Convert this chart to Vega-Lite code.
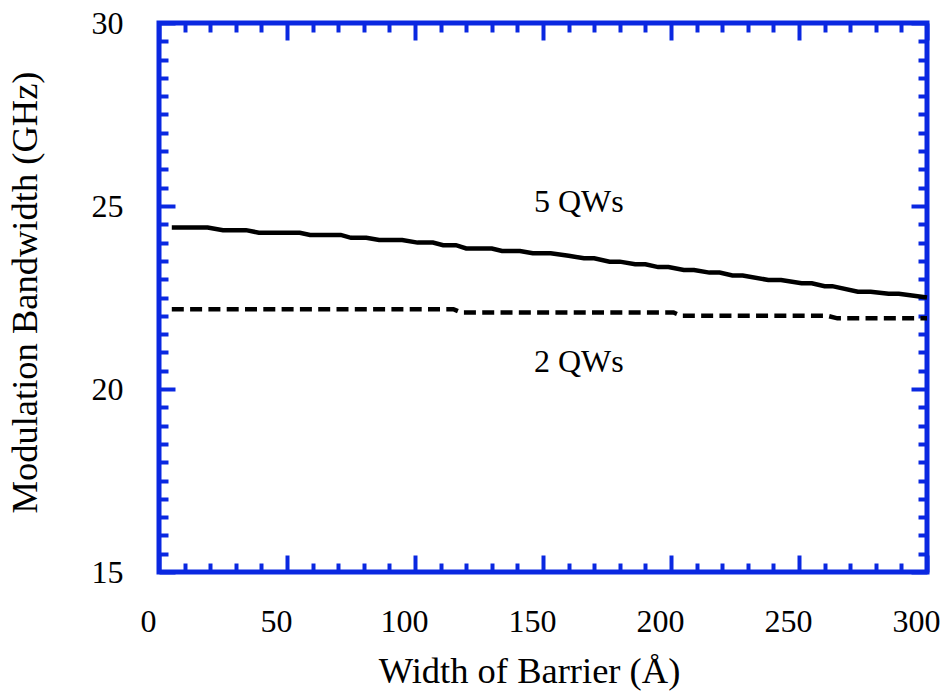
{
  "$schema": "https://vega.github.io/schema/vega-lite/v6.json",
  "width": 768,
  "height": 549,
  "autosize": {"type": "none"},
  "padding": {"left": 159, "top": 23, "right": 16, "bottom": 120},
  "background": "white",
  "datasets": {
    "bandwidth": [
      {"series": "5 QWs", "barrier": 5, "bw": 24.41},
      {"series": "5 QWs", "barrier": 19, "bw": 24.41},
      {"series": "5 QWs", "barrier": 25, "bw": 24.34},
      {"series": "5 QWs", "barrier": 34, "bw": 24.34},
      {"series": "5 QWs", "barrier": 39, "bw": 24.27},
      {"series": "5 QWs", "barrier": 55, "bw": 24.27},
      {"series": "5 QWs", "barrier": 59, "bw": 24.21},
      {"series": "5 QWs", "barrier": 71, "bw": 24.21},
      {"series": "5 QWs", "barrier": 75, "bw": 24.13},
      {"series": "5 QWs", "barrier": 81, "bw": 24.13},
      {"series": "5 QWs", "barrier": 86, "bw": 24.07},
      {"series": "5 QWs", "barrier": 95, "bw": 24.07},
      {"series": "5 QWs", "barrier": 101, "bw": 24.0},
      {"series": "5 QWs", "barrier": 107, "bw": 24.0},
      {"series": "5 QWs", "barrier": 111, "bw": 23.93},
      {"series": "5 QWs", "barrier": 116, "bw": 23.93},
      {"series": "5 QWs", "barrier": 120, "bw": 23.84},
      {"series": "5 QWs", "barrier": 130, "bw": 23.84},
      {"series": "5 QWs", "barrier": 134, "bw": 23.77},
      {"series": "5 QWs", "barrier": 141, "bw": 23.77},
      {"series": "5 QWs", "barrier": 146, "bw": 23.71},
      {"series": "5 QWs", "barrier": 153, "bw": 23.71},
      {"series": "5 QWs", "barrier": 160, "bw": 23.64},
      {"series": "5 QWs", "barrier": 166, "bw": 23.57},
      {"series": "5 QWs", "barrier": 170, "bw": 23.57},
      {"series": "5 QWs", "barrier": 176, "bw": 23.48},
      {"series": "5 QWs", "barrier": 180, "bw": 23.48},
      {"series": "5 QWs", "barrier": 186, "bw": 23.41},
      {"series": "5 QWs", "barrier": 190, "bw": 23.41},
      {"series": "5 QWs", "barrier": 195, "bw": 23.33},
      {"series": "5 QWs", "barrier": 199, "bw": 23.33},
      {"series": "5 QWs", "barrier": 205, "bw": 23.25},
      {"series": "5 QWs", "barrier": 209, "bw": 23.25},
      {"series": "5 QWs", "barrier": 215, "bw": 23.18},
      {"series": "5 QWs", "barrier": 219, "bw": 23.18},
      {"series": "5 QWs", "barrier": 224, "bw": 23.1},
      {"series": "5 QWs", "barrier": 228, "bw": 23.1},
      {"series": "5 QWs", "barrier": 238, "bw": 22.98},
      {"series": "5 QWs", "barrier": 243, "bw": 22.98},
      {"series": "5 QWs", "barrier": 251, "bw": 22.89},
      {"series": "5 QWs", "barrier": 255, "bw": 22.89},
      {"series": "5 QWs", "barrier": 260, "bw": 22.81},
      {"series": "5 QWs", "barrier": 263, "bw": 22.81},
      {"series": "5 QWs", "barrier": 273, "bw": 22.66},
      {"series": "5 QWs", "barrier": 278, "bw": 22.66},
      {"series": "5 QWs", "barrier": 285, "bw": 22.6},
      {"series": "5 QWs", "barrier": 289, "bw": 22.6},
      {"series": "5 QWs", "barrier": 300, "bw": 22.5},
      {"series": "2 QWs", "barrier": 5, "bw": 22.18},
      {"series": "2 QWs", "barrier": 115, "bw": 22.18},
      {"series": "2 QWs", "barrier": 118, "bw": 22.09},
      {"series": "2 QWs", "barrier": 201, "bw": 22.09},
      {"series": "2 QWs", "barrier": 204, "bw": 22.0},
      {"series": "2 QWs", "barrier": 261, "bw": 22.0},
      {"series": "2 QWs", "barrier": 265, "bw": 21.93},
      {"series": "2 QWs", "barrier": 300, "bw": 21.93}
    ],
    "labels": [
      {"text": "5 QWs", "barrier": 164, "bw": 24.84},
      {"text": "2 QWs", "barrier": 164, "bw": 20.46}
    ]
  },
  "layer": [
    {
      "data": {"name": "bandwidth"},
      "transform": [{"filter": "datum.series === '5 QWs'"}],
      "mark": {"type": "line", "color": "black", "strokeWidth": 4.5, "strokeCap": "butt"},
      "encoding": {
        "x": {
          "field": "barrier", "type": "quantitative",
          "scale": {"domain": [0, 300], "nice": false, "zero": false},
          "axis": {
            "orient": "bottom", "values": [0, 50, 100, 150, 200, 250, 300],
            "tickSize": -17, "labelPadding": 51, "labelOffset": -11, "labelFlush": false,
            "title": "Width of Barrier (Å)",
            "titleX": 370, "titleY": 110, "titleBaseline": "alphabetic", "titleAlign": "center"
          }
        },
        "y": {
          "field": "bw", "type": "quantitative",
          "scale": {"domain": [15, 30], "nice": false, "zero": false},
          "axis": {
            "orient": "left", "values": [15, 20, 25, 30],
            "tickSize": -16, "labelPadding": 52, "labelFlush": false,
            "title": "Modulation Bandwidth (GHz)",
            "titleX": -134, "titleY": 269, "titleAngle": -90, "titleBaseline": "middle", "titleAlign": "center"
          }
        }
      }
    },
    {
      "data": {"name": "bandwidth"},
      "transform": [{"filter": "datum.series === '2 QWs'"}],
      "mark": {"type": "line", "color": "black", "strokeWidth": 4.5, "strokeDash": [12, 6.3], "strokeCap": "butt"},
      "encoding": {
        "x": {
          "field": "barrier", "type": "quantitative",
          "scale": {"domain": [0, 300], "nice": false, "zero": false},
          "axis": {
            "orient": "bottom",
            "values": [10, 20, 30, 40, 60, 70, 80, 90, 110, 120, 130, 140, 160, 170, 180, 190, 210, 220, 230, 240, 260, 270, 280, 290],
            "tickSize": -9, "labels": false, "title": null
          }
        },
        "y": {
          "field": "bw", "type": "quantitative",
          "scale": {"domain": [15, 30], "nice": false, "zero": false},
          "axis": {
            "orient": "left",
            "values": [15.5, 16, 16.5, 17, 17.5, 18, 18.5, 19, 19.5, 20.5, 21, 21.5, 22, 22.5, 23, 23.5, 24, 24.5, 25.5, 26, 26.5, 27, 27.5, 28, 28.5, 29, 29.5],
            "tickSize": -9, "labels": false, "title": null
          }
        }
      }
    },
    {
      "data": {"name": "labels"},
      "transform": [{"filter": "datum.text === '5 QWs'"}],
      "mark": {"type": "text", "font": "Liberation Serif", "fontSize": 32, "align": "center", "baseline": "alphabetic", "color": "black"},
      "encoding": {
        "text": {"field": "text"},
        "x": {
          "field": "barrier", "type": "quantitative",
          "scale": {"domain": [0, 300], "nice": false, "zero": false},
          "axis": {"orient": "top", "values": [0, 50, 100, 150, 200, 250, 300], "tickSize": -17, "labels": false, "title": null}
        },
        "y": {
          "field": "bw", "type": "quantitative",
          "scale": {"domain": [15, 30], "nice": false, "zero": false},
          "axis": {"orient": "right", "values": [15, 20, 25, 30], "tickSize": -16, "labels": false, "title": null}
        }
      }
    },
    {
      "data": {"name": "labels"},
      "transform": [{"filter": "datum.text === '2 QWs'"}],
      "mark": {"type": "text", "font": "Liberation Serif", "fontSize": 32, "align": "center", "baseline": "alphabetic", "color": "black"},
      "encoding": {
        "text": {"field": "text"},
        "x": {
          "field": "barrier", "type": "quantitative",
          "scale": {"domain": [0, 300], "nice": false, "zero": false},
          "axis": {
            "orient": "top",
            "values": [10, 20, 30, 40, 60, 70, 80, 90, 110, 120, 130, 140, 160, 170, 180, 190, 210, 220, 230, 240, 260, 270, 280, 290],
            "tickSize": -9, "labels": false, "title": null
          }
        },
        "y": {
          "field": "bw", "type": "quantitative",
          "scale": {"domain": [15, 30], "nice": false, "zero": false},
          "axis": {
            "orient": "right",
            "values": [15.5, 16, 16.5, 17, 17.5, 18, 18.5, 19, 19.5, 20.5, 21, 21.5, 22, 22.5, 23, 23.5, 24, 24.5, 25.5, 26, 26.5, 27, 27.5, 28, 28.5, 29, 29.5],
            "tickSize": -9, "labels": false, "title": null
          }
        }
      }
    }
  ],
  "resolve": {"axis": {"x": "independent", "y": "independent"}},
  "config": {
    "view": {"stroke": "#0a28e1", "strokeWidth": 5},
    "axis": {
      "grid": false,
      "domain": false,
      "tickColor": "#0a28e1",
      "tickWidth": 4,
      "labelFont": "Liberation Serif",
      "labelFontSize": 32,
      "labelColor": "black",
      "labelFontWeight": "normal",
      "titleFont": "Liberation Serif",
      "titleFontSize": 36.5,
      "titleFontWeight": "normal",
      "titleColor": "black"
    }
  }
}
